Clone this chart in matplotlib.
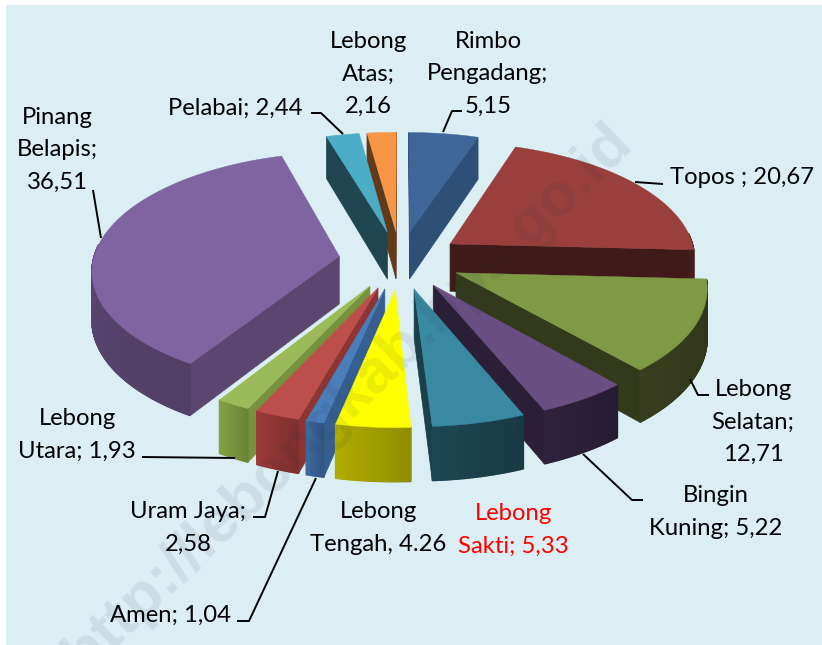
import numpy as np
import matplotlib
matplotlib.use('Agg')
import matplotlib.pyplot as plt
from matplotlib.colors import to_rgb

plt.rcParams['font.family'] = ['Lato', 'DejaVu Sans']

# values going clockwise from 12 o'clock
names = ['Rimbo Pengadang', 'Topos', 'Lebong Selatan', 'Bingin Kuning', 'Lebong Sakti', 'Lebong Tengah',
         'Amen', 'Uram Jaya', 'Lebong Utara', 'Pinang Belapis', 'Pelabai', 'Lebong Atas']
values = [5.15, 20.67, 12.71, 5.22, 5.33, 4.26, 1.04, 2.58, 1.93, 36.51, 2.44, 2.16]
labels = ['Rimbo\nPengadang;\n5,15', 'Topos ; 20,67', 'Lebong\nSelatan;\n12,71', 'Bingin\nKuning; 5,22',
          'Lebong\nSakti; 5,33', 'Lebong\nTengah, 4.26', 'Amen; 1,04', 'Uram Jaya;\n2,58',
          'Lebong\nUtara; 1,93', 'Pinang\nBelapis;\n36,51', 'Pelabai; 2,44', 'Lebong\nAtas;\n2,16']

top_colors = ['#3E6698', '#99403D', '#7F9945', '#694E82', '#3A89A3', '#FFFF00',
              '#4A7EBB', '#BC4F4B', '#9BBB59', '#8064A2', '#4BACC6', '#F79646']
side_colors = ['#2E4F76', '#3F1A18', '#33391B', '#2A1F37', '#1A404C', '#A09C00',
               '#365F91', '#8C3533', '#76923C', '#5A4670', '#1F4650', '#623A1B']

label_pos = [(488, 74), (742, 177), (753, 422), (716, 512), (513, 530), (378, 528),
             (170, 615), (188, 528), (77, 435), (57, 150), (235, 108), (368, 74)]
leaders = [[(443, 132), (452, 111), (462, 111)],
           [(635, 182), (663, 184)],
           [(690, 379), (698, 395), (709, 395)],
           [(583, 454), (632, 500), (643, 500)],
           [(142, 457), (235, 458)],
           [(278, 471), (265, 517), (253, 517)],
           [(316, 478), (249, 621), (237, 621)],
           [(93, 190), (101, 238)],
           [(311, 113), (321, 113), (343, 134)]]

# pie geometry in pixels
cx, cy = 400, 260
scale_x, scale_y = 246, 116
persp = 0.108
explode = 0.25


def project(x, y, drop=0.0):
    w = 1 + persp * y
    return cx + scale_x * x / w, cy - scale_y * y / w + drop * (48 - 5 * y)


def lighten(col, f):
    return tuple(min(1, c * f) for c in to_rgb(col))


fig = plt.figure(figsize=(8.22, 6.45), dpi=100, facecolor='white')
ax = fig.add_axes([0, 0, 1, 1])
ax.set_xlim(0, 822)
ax.set_ylim(645, 0)
ax.axis('off')
ax.add_patch(plt.Rectangle((6, 5), 816, 640, fc='#DBEEF4', ec='none', zorder=0))

total = sum(values)
edges = np.cumsum([0] + values) / total * 2 * np.pi
mids = (edges[:-1] + edges[1:]) / 2

z = 2
for i in np.argsort(-np.cos(mids)):
    a0, a1, m = edges[i], edges[i + 1], mids[i]
    ox, oy = explode * np.sin(m), explode * np.cos(m)
    th = np.linspace(a0, a1, max(int((a1 - a0) * 150), 3))
    rx, ry = ox + np.sin(th), oy + np.cos(th)

    tx, ty = project(rx, ry)
    bx, by = project(rx, ry, 1)
    ax0, ay0 = project(ox, oy)
    bx0, by0 = project(ox, oy, 1)

    # radial walls, only the ones facing the viewer
    for k in (0, -1):
        qx = [ax0, tx[k], bx[k], bx0]
        qy = [ay0, ty[k], by[k], by0]
        area = sum(qx[j] * qy[(j + 1) % 4] - qx[(j + 1) % 4] * qy[j] for j in range(4))
        if (k == 0 and area < 0) or (k == -1 and area > 0):
            ax.fill(qx, qy, color=side_colors[i], lw=0.5, zorder=z)
            z += 1

    # outer wall as small strips so the shade can run across it
    for j in range(len(th) - 1):
        if np.cos(th[j]) < 0.1:
            t = j / max(len(th) - 2, 1)
            col = lighten(side_colors[i], 0.9 + 0.2 * t)
            ax.fill([tx[j], tx[j + 1], bx[j + 1], bx[j]], [ty[j], ty[j + 1], by[j + 1], by[j]],
                    color=col, lw=1.0, zorder=z)
    z += 1

    ax.fill(np.r_[ax0, tx], np.r_[ay0, ty], color=top_colors[i], lw=0.3, zorder=z)
    z += 1

for pts in leaders:
    xs, ys = zip(*pts)
    ax.plot(xs, ys, color='black', lw=1.4, zorder=z, solid_capstyle='butt')
z += 1

for i, lab in enumerate(labels):
    col = 'red' if names[i] == 'Lebong Sakti' else 'black'
    ax.text(label_pos[i][0], label_pos[i][1], lab, fontsize=17.2, color=col, ha='center', va='center',
            linespacing=1.68, zorder=z)

# watermark runs over the whole picture
ax.text(349, 398, 'http://lebongkab.bps.go.id', fontsize=44, family='Liberation Sans', weight='bold',
        color='#203040', alpha=0.085, rotation=44, rotation_mode='anchor', ha='center', va='center',
        zorder=z + 1, clip_on=True)

fig.savefig('out.png', dpi=100)
